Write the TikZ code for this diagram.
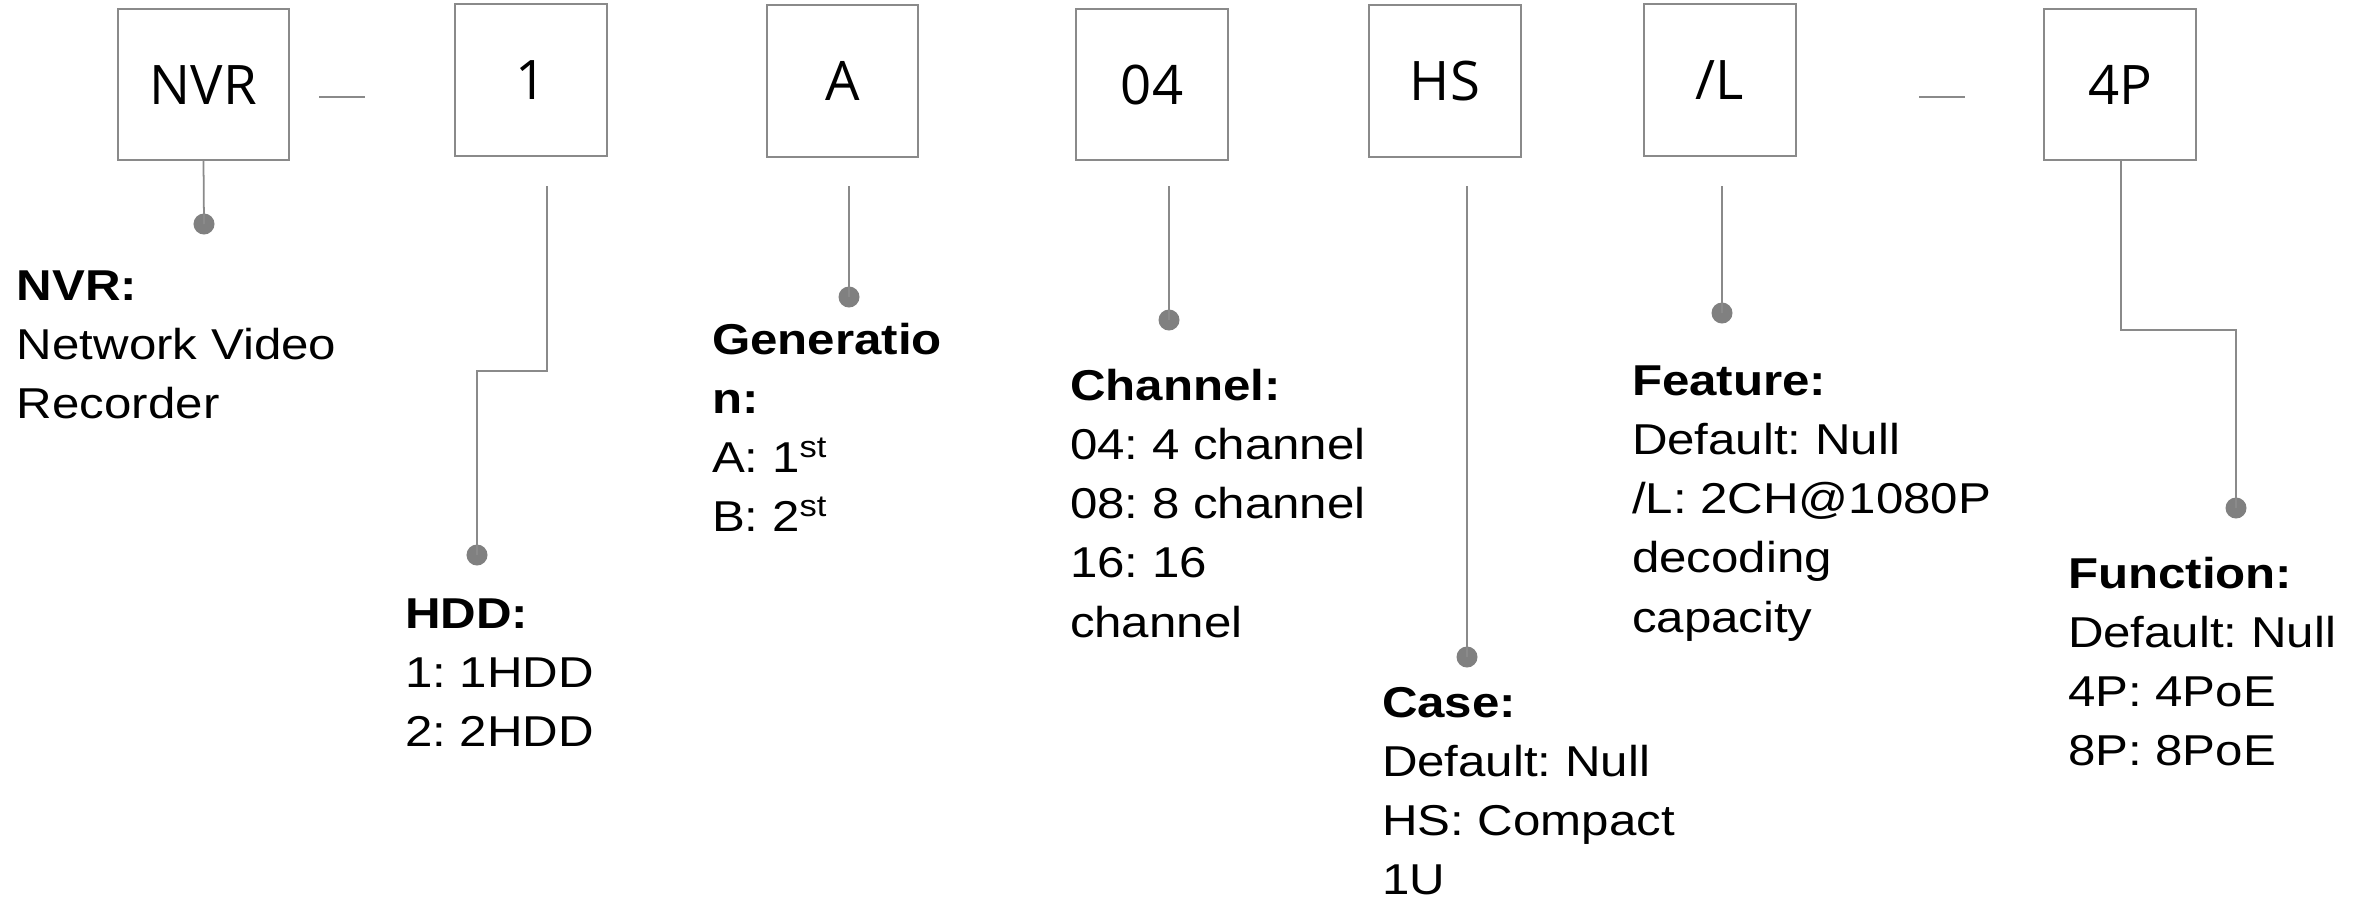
\documentclass[tikz,border=0pt]{standalone}
\usepackage{fontspec}
\setmainfont{Liberation Sans}[FakeStretch=1.14]
\newfontfamily\boxfont{Open Sans}
\definecolor{linegray}{RGB}{138,138,138}
\definecolor{dotgray}{RGB}{128,128,128}
\newcommand{\lbltab}[1]{\begin{tabular}[t]{@{}l@{}}#1\end{tabular}}
\frenchspacing
\begin{document}
\begin{tikzpicture}[x=0.01cm,y=-0.01cm,
  codebox/.style={draw=linegray, line width=0.6pt, inner sep=0pt, outer sep=0pt,
    font=\boxfont\fontsize{15.5pt}{18pt}\selectfont, text height=0.39cm, text depth=0pt},
  conn/.style={draw=linegray, line width=0.5pt},
  dotnode/.style={circle, fill=dotgray, inner sep=0pt, outer sep=0pt, minimum size=0.21cm},
  lbl/.style={anchor=base west, inner sep=0pt, outer sep=0pt,
    font=\fontsize{12.28pt}{16.87pt}\selectfont\frenchspacing}]
\path[use as bounding box] (0,0) rectangle (2369,900);

% code boxes
\node[codebox, minimum width=1.71cm, minimum height=1.51cm] (bnvr) at (203.5,84.5) {NVR};
\node[codebox, minimum width=1.52cm, minimum height=1.52cm] (bone) at (531,80) {1};
\node[codebox, minimum width=1.51cm, minimum height=1.52cm] (ba) at (842.5,81) {A};
\node[codebox, minimum width=1.52cm, minimum height=1.51cm] (bch) at (1152,84.5) {04};
\node[codebox, minimum width=1.52cm, minimum height=1.52cm] (bhs) at (1445,81) {HS};
\node[codebox, minimum width=1.52cm, minimum height=1.52cm] (bl) at (1720,80) {/L};
\node[codebox, minimum width=1.52cm, minimum height=1.51cm] (bp) at (2120,84.5) {4P};

% dashes
\coordinate (da1) at (319,97);
\coordinate (da2) at (365,97);
\coordinate (db1) at (1919,97);
\coordinate (db2) at (1965,97);
\draw[conn] (da1) -- (da2);
\draw[conn] (db1) -- (db2);

% dots
\node[dotnode] (dnvr) at (204,224) {};
\node[dotnode] (done) at (477,555) {};
\node[dotnode] (da) at (849,297) {};
\node[dotnode] (dch) at (1169,320) {};
\node[dotnode] (dhs) at (1467,657) {};
\node[dotnode] (dl) at (1722,313) {};
\node[dotnode] (dp) at (2236,508) {};

% connector start / bend points
\coordinate (sone) at (547,186);
\coordinate (kone) at (547,371);
\coordinate (sa) at (849,186);
\coordinate (sch) at (1169,186);
\coordinate (shs) at (1467,186);
\coordinate (sl) at (1722,186);
\coordinate (kp) at (2121,330);

\draw[conn] (bnvr.south) -- (dnvr.center);
\draw[conn] (sone) -- (kone) -| (done.center);
\draw[conn] (sa) -- (da.center);
\draw[conn] (sch) -- (dch.center);
\draw[conn] (shs) -- (dhs.center);
\draw[conn] (sl) -- (dl.center);
\draw[conn] (bp.south -| kp) -- (kp) -| (dp.center);

% labels
\node[lbl] (lnvr) at (17,300) {\lbltab{\textbf{NVR:}\\Network Video\\Recorder}};
\node[lbl] (lhdd) at (405,628) {\lbltab{\textbf{HDD:}\\1: 1HDD\\2: 2HDD}};
\node[lbl] (lgen) at (712,354) {\lbltab{\textbf{Generatio}\\\textbf{n:}\\A: 1\textsuperscript{st}\\B: 2\textsuperscript{st}}};
\node[lbl] (lch) at (1070,400) {\lbltab{\textbf{Channel:}\\04: 4 channel\\08: 8 channel\\16: 16\\channel}};
\node[lbl] (lcase) at (1382,717) {\lbltab{\textbf{Case:}\\Default: Null\\HS: Compact\\1U}};
\node[lbl] (lfeat) at (1632,395) {\lbltab{\textbf{Feature:}\\Default: Null\\/L: 2CH@1080P\\decoding\\capacity}};
\node[lbl] (lfun) at (2068,588) {\lbltab{\textbf{Function:}\\Default: Null\\4P: 4PoE\\8P: 8PoE}};
\end{tikzpicture}
\end{document}
